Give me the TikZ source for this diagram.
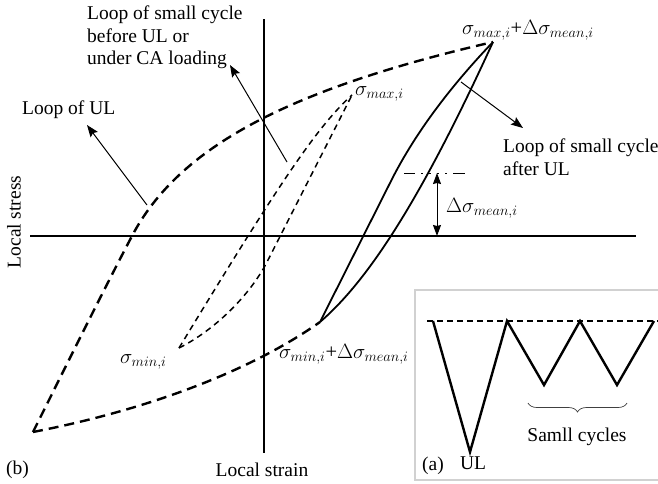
\documentclass[tikz,border=0pt]{standalone}
\usepackage{fontspec}
\setmainfont{Liberation Serif}
\usetikzlibrary{arrows.meta,decorations.pathreplacing}
\begin{document}
\begin{tikzpicture}[x=1pt,y=-1pt,
  lbl/.style={font=\fontsize{19.5}{22.5}\selectfont, inner sep=0pt},
  mlbl/.style={font=\fontsize{20.5}{24}\selectfont, inner sep=0pt},
  axisline/.style={line width=1.2pt},
  ulcurve/.style={line width=2.4pt, dash pattern=on 10pt off 6pt},
  smallcurve/.style={line width=1.5pt, dash pattern=on 6pt off 4.5pt},
  loopcurve/.style={line width=1.8pt},
  pointer/.style={line width=1pt, -{Stealth[length=12pt,width=9pt,inset=2pt]}},
  dimarrow/.style={line width=1pt, {Stealth[length=11pt,width=8pt,inset=1pt]}-{Stealth[length=11pt,width=8pt,inset=1pt]}},
  zig/.style={line width=2.4pt, line join=miter},
  framebox/.style={draw=black!18, line width=1.2pt}
]
\useasboundingbox (0,0) rectangle (658,483);

% axes
\coordinate (vtop) at (264,19);
\coordinate (vbot) at (264,453);
\coordinate (hleft) at (30,236);
\coordinate (hright) at (636,236);
\draw[axisline] (vtop) -- (vbot);
\draw[axisline] (hleft) -- (hright);

% loop of UL (thick dashed)
\coordinate (ulbot) at (33,432);
\coordinate (ulmid) at (132,236);
\coordinate (ultop) at (493,42);
\coordinate (ulend) at (320,322);
\draw[ulcurve] (ulbot) .. controls (66,366) and (102,293) .. (ulmid)
  .. controls (178.5,147.7) and (286.8,89.5) .. (ultop);
\draw[ulcurve] (ulbot) .. controls (151,409) and (252,370) .. (ulend);

% small loop before UL (thin dashed)
\coordinate (smin) at (179,348);
\coordinate (smax) at (352,95);
\coordinate (sknee) at (267,262);
\draw[smallcurve] (smin) .. controls (284,175) and (319,125) .. (smax);
\draw[smallcurve] (smin) .. controls (215,330) and (250,295) .. (sknee) -- (smax);

% small loop after UL (solid)
\coordinate (lknee) at (390,183);
\draw[loopcurve] (ulend) -- (lknee) .. controls (413,136.6) and (448,89) .. (ultop);
\draw[loopcurve] (ulend) .. controls (373.6,276) and (428,184) .. (ultop);

% mean stress shift
\coordinate (dl) at (404,173);
\coordinate (dr) at (466,173);
\draw[line width=1pt, dash pattern=on 11pt off 6pt on 2pt off 6pt on 2pt off 6pt on 2pt off 6pt on 2pt off 6pt on 12pt] (dl) -- (dr);
\coordinate (dmtop) at (437,173);
\coordinate (dmbot) at (437,236);
\draw[dimarrow] (dmtop) -- (dmbot);

% labels
\node[lbl, anchor=west, align=left] (lbefore) at (87,37.5) {Loop of small cycle\\before UL or\\under CA loading};
\node[lbl, anchor=west] (lul) at (22,110) {Loop of UL};
\node[lbl, anchor=west, align=left] (lafter) at (503,157) {Loop of small cycle\\after UL};
\node[mlbl, anchor=west] (lsmax) at (355,94) {$\sigma_{max,i}$};
\node[mlbl, anchor=west] (lsmaxd) at (462,30) {$\sigma_{max,i}$+$\Delta\sigma_{mean,i}$};
\node[mlbl, anchor=west] (ldm) at (446,208) {$\Delta\sigma_{mean,i}$};
\node[mlbl, anchor=west] (lsmin) at (120,362) {$\sigma_{min,i}$};
\node[mlbl, anchor=west] (lsmind) at (279,354) {$\sigma_{min,i}$+$\Delta\sigma_{mean,i}$};
\node[lbl, rotate=90] (lstress) at (14,222) {Local stress};
\node[lbl] (lstrain) at (262,470) {Local strain};
\node[lbl, anchor=west] (lb) at (6,470) {(b)};

% pointer arrows
\coordinate (pulS) at (147,205);
\coordinate (pulE) at (87,125);
\draw[pointer] (pulS) -- (pulE);
\coordinate (pbS) at (287,162);
\coordinate (pbE) at (230,65);
\draw[pointer] (pbS) -- (pbE);
\coordinate (paS) at (461,82);
\coordinate (paE) at (523,128);
\draw[pointer] (paS) -- (paE);

% inset (a)
\draw[framebox] (660,290) -- (415,290) -- (415,480) -- (660,480);
\coordinate (base0) at (427,321);
\coordinate (base1) at (660,321);
\draw[line width=1.2pt, dash pattern=on 6pt off 4pt] (base0) -- (base1);
\coordinate (z0) at (433,321);
\coordinate (z1) at (470,452);
\coordinate (z2) at (507,321);
\coordinate (z3) at (544,385);
\coordinate (z4) at (580,321);
\coordinate (z5) at (617,385);
\coordinate (z6) at (654,321);
\draw[zig] (z0) -- (z1) -- (z2) -- (z3) -- (z4) -- (z5) -- (z6);
\coordinate (brL) at (528,403);
\coordinate (brR) at (627,403);
\draw[line width=0.7pt, black!75, decorate, decoration={brace, mirror, amplitude=9pt}] (brL) -- (brR);
\node[lbl] (lsmall) at (577,437) {Samll cycles};
\node[lbl] (lulb) at (473,463) {UL};
\node[lbl] (la) at (433,466) {(a)};
\end{tikzpicture}
\end{document}
